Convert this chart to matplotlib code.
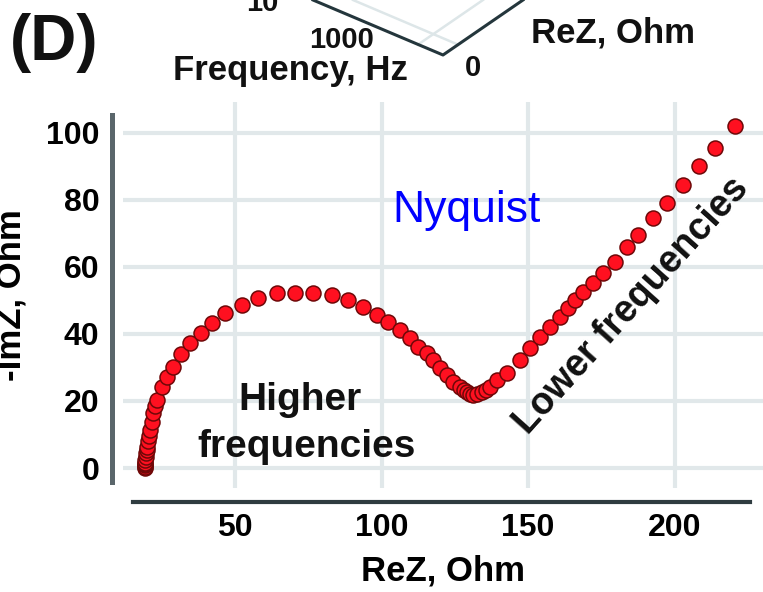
import matplotlib
matplotlib.use("Agg")
import matplotlib.pyplot as plt

# Nyquist data: real part and negative imaginary part of the impedance (Ohm),
# ordered from high to low frequency
rez = [19.2, 19.2, 19.25, 19.3, 19.35, 19.4, 19.5, 19.65, 19.8, 20.0, 20.4, 20.7,
       21.0, 21.5, 22.0, 22.6, 23.4, 25.1, 26.8, 28.8, 31.5, 34.8, 38.4, 42.2,
       46.6, 52.4, 57.8, 64.3, 70.5, 76.6, 83.1, 88.6, 93.7, 98.5, 102.2, 106.3,
       109.7, 112.5, 115.5, 117.6, 120.0, 122.4, 124.4, 126.8, 128.0, 129.2,
       130.2, 131.2, 132.7, 134.3, 135.6, 137.0, 139.4, 142.8, 147.3, 150.7,
       154.1, 157.5, 160.9, 163.7, 166.0, 168.8, 172.2, 175.6, 179.7, 183.8,
       187.5, 192.6, 197.4, 202.9, 208.3, 213.8, 220.6]
imz = [0.0, 0.4, 0.8, 1.2, 1.6, 2.5, 3.4, 4.4, 5.3, 6.3, 8.0, 9.6,
       11.3, 13.8, 16.4, 18.4, 20.3, 24.2, 27.2, 30.1, 34.0, 37.2, 40.3, 43.3,
       46.3, 48.7, 50.7, 52.2, 52.2, 52.2, 51.6, 50.1, 48.1, 45.7, 43.6, 41.2,
       38.8, 36.1, 34.3, 32.2, 29.9, 27.8, 25.7, 24.2, 23.3, 22.7,
       22.1, 21.8, 22.0, 22.7, 23.3, 24.2, 26.3, 28.4, 32.2, 35.8,
       39.1, 42.1, 45.1, 47.8, 50.1, 52.5, 55.2, 58.2, 61.5, 66.0,
       69.6, 74.6, 79.1, 84.5, 89.9, 95.5, 101.8]

x_ticks = [50, 100, 150, 200]
y_ticks = [0, 20, 40, 60, 80, 100]

W, H = 763, 592
fig = plt.figure(figsize=(W / 100, H / 100), dpi=100)
plt.rcParams["font.family"] = ["Liberation Sans", "DejaVu Sans"]

# main Nyquist axes (pixel box: x 123..763, y 102..488)
ax = fig.add_axes([123 / W, (H - 488) / H, 640 / W, 386 / H])
ax.set_xlim(11.77, 230.2)
ax.set_ylim(-5.96, 109.1)
ax.set_xticks(x_ticks)
ax.set_yticks(y_ticks)
ax.grid(True, color="#e1e8ea", linewidth=3.0)
ax.set_axisbelow(True)

for side in ("top", "right"):
    ax.spines[side].set_visible(False)
ax.spines["left"].set_position(("outward", 8))
ax.spines["left"].set_bounds(-4.2, 105.2)
ax.spines["left"].set_color("#5a666b")
ax.spines["left"].set_linewidth(3.6)
ax.spines["bottom"].set_position(("outward", 10))
ax.spines["bottom"].set_bounds(15.2, 225.8)
ax.spines["bottom"].set_color("#2f3c40")
ax.spines["bottom"].set_linewidth(3.0)

ax.tick_params(axis="both", length=0, labelsize=23)
ax.tick_params(axis="x", pad=8)
ax.tick_params(axis="y", pad=9)
for lab in ax.get_xticklabels() + ax.get_yticklabels():
    lab.set_fontweight("bold")

ax.plot(rez, imz, linestyle="none", marker="o", markersize=10.8,
        markerfacecolor="#ff1020", markeredgecolor="#6e0808",
        markeredgewidth=1.1, clip_on=False)

ax.set_xlabel("ReZ, Ohm", fontsize=25, fontweight="bold")
ax.xaxis.set_label_coords(0.5, -0.172)
ax.set_ylabel("-ImZ, Ohm", fontsize=25, fontweight="bold", va="center")
ax.yaxis.set_label_coords(-0.175, 0.5)

# overlay in pixel coordinates for annotations and the panel header
ov = fig.add_axes([0, 0, 1, 1], facecolor="none")
ov.set_xlim(0, W)
ov.set_ylim(H, 0)
ov.axis("off")

ov.text(467, 222, "Nyquist", color="#0000ff", fontsize=32,
        ha="center", va="baseline")
ov.text(300, 410, "Higher", fontsize=28, fontweight="bold",
        ha="center", va="baseline", color="#111111")
ov.text(307, 457, "frequencies", fontsize=28, fontweight="bold",
        ha="center", va="baseline", color="#111111")
ov.text(632, 306, "Lower frequencies", fontsize=27, fontweight="bold",
        rotation=48, rotation_mode="anchor", ha="center", va="center",
        color="#111111")

# header: panel letter and the lower edge of the 3D plot above
ov.text(10, 60, "(D)", fontsize=46, fontweight="bold", ha="left",
        va="baseline", color="#111111")
ov.plot([353, 458], [0, 44.6], color="#dde6e8", linewidth=1.8)
ov.plot([483, 418], [0, 44.6], color="#dde6e8", linewidth=1.8)
ov.plot([313, 443, 523], [0, 55, 0], color="#24363c", linewidth=2.2)
ov.text(262, 11, "10", fontsize=21, fontweight="bold", ha="center",
        va="baseline", color="#111111")
ov.text(342, 48, "1000", fontsize=21, fontweight="bold", ha="center",
        va="baseline", color="#111111")
ov.text(290, 80, "Frequency, Hz", fontsize=25, fontweight="bold",
        ha="center", va="baseline", color="#111111")
ov.text(473, 76, "0", fontsize=21, fontweight="bold", ha="center",
        va="baseline", color="#111111")
ov.text(613, 43, "ReZ, Ohm", fontsize=25, fontweight="bold",
        ha="center", va="baseline", color="#111111")

fig.savefig("out.png", dpi=100)
